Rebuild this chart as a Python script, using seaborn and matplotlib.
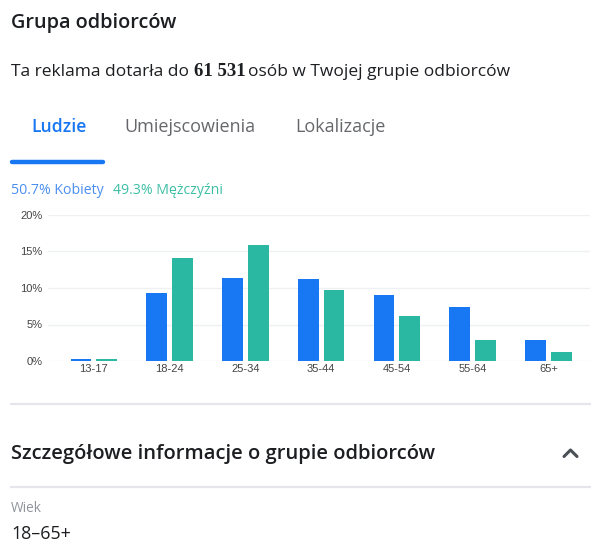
import numpy as np
import pandas as pd
import matplotlib.pyplot as plt
import seaborn as sns
from matplotlib.lines import Line2D

# dane (%)
ages = ["13-17", "18-24", "25-34", "35-44", "45-54", "55-64", "65+"]
kobiety = [0.3, 9.3, 11.4, 11.3, 9.1, 7.4, 2.9]
mezczyzni = [0.3, 14.1, 15.9, 9.7, 6.1, 2.9, 1.3]
groups = ["Kobiety", "Mężczyźni"]
colors = ["#1877F2", "#2BB8A2"]
yticks = [0, 5, 10, 15, 20]

df = pd.DataFrame({
    "wiek": ages * 2,
    "plec": [groups[0]] * len(ages) + [groups[1]] * len(ages),
    "udzial": kobiety + mezczyzni,
})

sns.set_style("white")
plt.rcParams["font.family"] = ["Open Sans", "DejaVu Sans"]

W, H = 591, 546
fig = plt.figure(figsize=(W / 100, H / 100), dpi=100)


def fx(x):
    return x / W


def fy(y):
    return 1 - y / H


def txt(x, y, s, **kw):
    kw.setdefault("va", "center")
    kw.setdefault("ha", "left")
    return fig.text(fx(x), fy(y), s, **kw)


def hline(x0, x1, y, color="#e4e6eb", lw=1.6, **kw):
    fig.add_artist(Line2D([fx(x0), fx(x1)], [fy(y), fy(y)], color=color,
                          lw=lw, transform=fig.transFigure, **kw))


# nagłówki
txt(11, 23, "Grupa odbiorców", fontsize=14.3, weight="semibold", color="#1c1e21")

t1 = txt(11, 72, "Ta reklama dotarła do ", fontsize=12.5, color="#1c1e21")
fig.canvas.draw()
r = fig.canvas.get_renderer()
x_end = t1.get_window_extent(r).x1 + 1
t2 = fig.text(x_end / W, fy(72), "61 531", fontsize=13.5, weight="bold",
              family="Liberation Serif", color="#1c1e21", va="center")
x_end = t2.get_window_extent(r).x1 + 2
fig.text(x_end / W, fy(72), "osób w Twojej grupie odbiorców", fontsize=12.5,
         color="#1c1e21", va="center")

# zakładki
txt(31, 127, "Ludzie", fontsize=12.7, weight="semibold", color="#1877F2")
txt(124, 127, "Umiejscowienia", fontsize=13, color="#65676b")
txt(295, 127, "Lokalizacje", fontsize=13, color="#65676b")
hline(12, 103, 162, color="#1877F2", lw=3.2, solid_capstyle="round")

# legenda
txt(11, 191, "50.7% Kobiety", fontsize=10.2, color="#4a8ff0")
txt(113, 191, "49.3% Mężczyźni", fontsize=10.2, color="#3dbfa5")

# wykres
ax = fig.add_axes([fx(48), fy(361), fx(590 - 48), (361 - 215) / H])
sns.barplot(data=df, x="wiek", y="udzial", hue="plec", hue_order=groups,
            palette=colors, width=0.68, gap=0.19, legend=False,
            edgecolor="none", saturation=1, ax=ax)
ax.set_xlim(-0.605, 6.55)
ax.set_ylim(0, 20)
ax.set_yticks(yticks)
ax.set_yticklabels([f"{v}%" for v in yticks])
ax.grid(axis="y", color="#eef0f4", lw=1)
ax.set_axisbelow(True)
for s in ax.spines.values():
    s.set_visible(False)
ax.tick_params(length=0, labelsize=8, colors="#444444", pad=4)
ax.tick_params(axis="x", pad=2)
for lab in ax.get_xticklabels() + ax.get_yticklabels():
    lab.set_family(["Liberation Sans", "DejaVu Sans"])
ax.set_xlabel("")
ax.set_ylabel("")

# szczegóły
hline(11, 591, 404)
txt(11, 454, "Szczegółowe informacje o grupie odbiorców", fontsize=14.5,
    weight="semibold", color="#1c1e21")
fig.add_artist(Line2D([fx(564), fx(570.5), fx(577)], [fy(456.5), fy(450), fy(456.5)],
                      color="#4b4f56", lw=2.2, transform=fig.transFigure,
                      solid_capstyle="round", solid_joinstyle="round"))
hline(11, 591, 487)
txt(11, 508, "Wiek", fontsize=9.8, color="#90949c")
txt(11, 534, "18–65+", fontsize=12.8, color="#1c1e21")

fig.savefig("out.png", dpi=100)
